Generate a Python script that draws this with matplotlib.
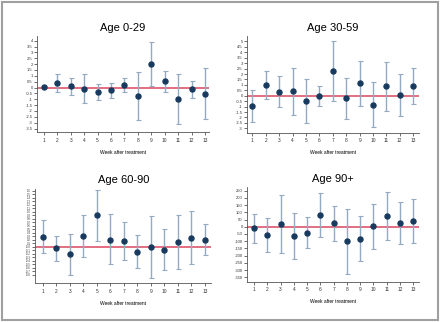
import numpy as np
import matplotlib.pyplot as plt
from matplotlib.patches import Rectangle

weeks = list(range(1, 14))

# Age 0-29
est_0_29 = [0.06, 0.40, 0.11, -0.09, -0.37, -0.23, 0.23, -0.71, 1.97, 0.54, -0.97, -0.14, -0.51]
hi_0_29 = [0.10, 1.14, 0.83, 1.20, 0.29, 0.40, 0.83, 1.34, 3.86, 1.43, 1.20, 0.57, 1.63]
lo_0_29 = [0.02, -0.37, -0.60, -1.31, -1.03, -0.89, -0.40, -2.74, 0.09, -0.37, -3.14, -0.91, -2.69]

# Age 30-59
est_30_59 = [-0.95, 1.02, 0.37, 0.43, -0.46, 0.00, 2.28, -0.22, 1.17, -0.86, 0.86, 0.06, 0.86]
hi_30_59 = [0.55, 2.31, 1.85, 2.58, 1.57, 0.92, 5.05, 1.66, 3.23, 1.26, 3.14, 2.00, 2.55]
lo_30_59 = [-2.46, -0.31, -1.08, -1.78, -2.49, -0.92, -0.49, -2.12, -0.92, -2.92, -1.38, -1.88, -0.80]

# Age 60-90
est_60_90 = [0.29, -0.05, -0.22, 0.30, 0.90, 0.20, 0.17, -0.14, -0.02, -0.09, 0.13, 0.25, 0.20]
hi_60_90 = [0.75, 0.32, 0.36, 0.90, 1.62, 0.93, 0.72, 0.33, 0.87, 0.51, 0.91, 1.01, 0.65]
lo_60_90 = [-0.18, -0.40, -0.80, -0.29, 0.17, -0.51, -0.38, -0.62, -0.89, -0.68, -0.64, -0.50, -0.23]

# Age 90+
est_90 = [-12, -55, 16, -65, -42, 83, 25, -102, -83, 5, 76, 25, 42]
hi_90 = [90, 62, 217, 92, 65, 235, 145, 125, 72, 159, 238, 175, 189]
lo_90 = [-113, -173, -185, -224, -150, -74, -99, -330, -238, -152, -90, -122, -113]

yticks_0_29 = np.arange(-3.5, 4.01, 0.5)
yticks_30_59 = np.arange(-3, 5.01, 0.5)
yticks_60_90 = np.arange(-0.8, 1.61, 0.1)
yticks_90 = np.arange(-350, 251, 50)

panels = [
    ("Age 0-29", est_0_29, lo_0_29, hi_0_29, yticks_0_29, (-3.8, 4.4), (0.48, 13.3),
     [0.084, 0.590, 0.391, 0.298]),
    ("Age 30-59", est_30_59, lo_30_59, hi_30_59, yticks_30_59, (-3.4, 5.5), (0.58, 13.42),
     [0.561, 0.588, 0.391, 0.300]),
    ("Age 60-90", est_60_90, lo_60_90, hi_60_90, yticks_60_90, (-1.05, 1.66), (0.43, 13.47),
     [0.080, 0.120, 0.400, 0.294]),
    ("Age 90+", est_90, lo_90, hi_90, yticks_90, (-381, 275), (0.45, 13.43),
     [0.561, 0.125, 0.391, 0.294]),
]

plt.rcParams['font.family'] = ['Liberation Sans', 'DejaVu Sans']

fig = plt.figure(figsize=(4.4, 3.22), dpi=100)
fig.patches.append(Rectangle((0.004, 0.005), 0.992, 0.99, transform=fig.transFigure,
                             fill=False, edgecolor='#a0a0a0', linewidth=1.5))

for title, est, lo, hi, yt, ylim, xlim, pos in panels:
    ax = fig.add_axes(pos)
    est = np.array(est)
    err = [est - np.array(lo), np.array(hi) - est]
    ax.axhline(0, color='#d9475e', linewidth=1.1, zorder=1)
    ax.errorbar(weeks, est, yerr=err, fmt='none', ecolor='#93aac2', elinewidth=1.0,
                capsize=1.8, capthick=0.8, zorder=2)
    ax.plot(weeks, est, 'o', color='#173a5e', markersize=3.6, zorder=3)
    ax.set_xlim(*xlim)
    ax.set_ylim(*ylim)
    ax.set_xticks(weeks)
    ax.set_yticks(yt)
    if title == "Age 60-90":
        ax.set_yticklabels([f"{v:.1f}" for v in yt], fontsize=2)
    elif title == "Age 90+":
        ax.set_yticklabels([f"{v:g}" for v in yt], fontsize=3)
    else:
        ax.set_yticklabels([f"{v:g}" for v in yt], fontsize=3)
    ax.tick_params(axis='x', labelsize=3.5, length=2, width=0.5, pad=2, colors='#333333')
    ax.tick_params(axis='y', length=2, width=0.5, pad=1, colors='#333333')
    for s in ('top', 'right'):
        ax.spines[s].set_visible(False)
    for s in ('left', 'bottom'):
        ax.spines[s].set_linewidth(0.6)
        ax.spines[s].set_color('#555555')
    ax.set_xlabel("Week after treatment", fontsize=3.5, labelpad=5)
    ax.set_title(title, fontsize=8, pad=4)

fig.savefig("out.png", dpi=100)
